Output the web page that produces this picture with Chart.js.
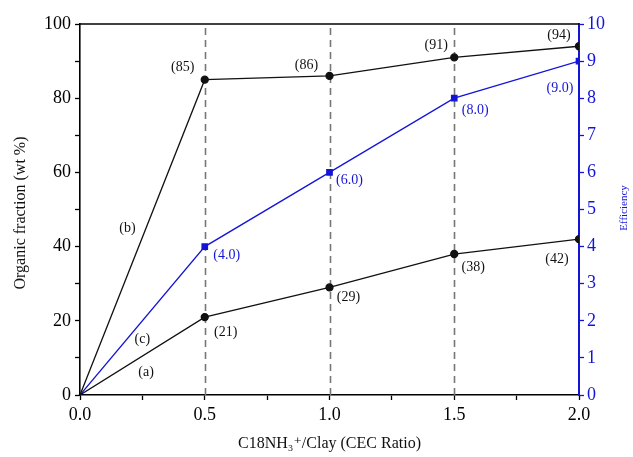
<!DOCTYPE html>
<html>
<head>
<meta charset="utf-8">
<script src="https://cdn.jsdelivr.net/npm/chart.js@4.4.1/dist/chart.umd.min.js"></script>
<style>
  html,body{margin:0;padding:0;background:#fff;}
  #wrap{width:633px;height:457px;position:relative;}
</style>
</head>
<body>
<div id="wrap"><canvas id="chart"></canvas></div>
<script>
// data
const ratios = [0, 0.5, 1.0, 1.5, 2.0];
const organicB = [0, 85, 86, 91, 94];   // (b)
const organicA = [0, 21, 29, 38, 42];   // (a)
const efficiencyC = [0, 4.0, 6.0, 8.0, 9.0]; // (c), right axis
const dashedAt = [0.5, 1.0, 1.5];
const curveNames = [
  { text: '(b)', x: 0.19, y: 45 },
  { text: '(c)', x: 0.25, y: 15 },
  { text: '(a)', x: 0.265, y: 6 }
];
const leftTitle = 'Organic fraction (wt %)';
const rightTitle = 'Efficiency';
const xTitle = 'C18NH\u2083\u207A/Clay (CEC Ratio)';

const BLUE = '#1414d8';
const SERIF = '"Liberation Serif", "DejaVu Serif", serif';

const pts = (ys)=> ratios.map((x,i)=>({ x, y: ys[i] }));

// pixel nudges for the value labels (per point)
const offB = [null, [-22,-12], [-23,-11], [-18,-12], [-20,-11]];
const offA = [null, [21,15], [19,10], [19,13], [-22,20]];
const offC = [null, [22,9], [20,8], [21,12], [-19,27]];

const extrasPlugin = {
  id: 'extras',
  beforeDatasetsDraw(chart){
    const { ctx, chartArea, scales } = chart;
    const x = scales.x;
    ctx.save();
    // dashed verticals
    ctx.strokeStyle = '#777';
    ctx.lineWidth = 1.6;
    ctx.setLineDash([7,5]);
    dashedAt.forEach(v=>{
      const px = Math.round(x.getPixelForValue(v)) + 0.5;
      ctx.beginPath();
      ctx.moveTo(px, chartArea.bottom);
      ctx.lineTo(px, chartArea.top);
      ctx.stroke();
    });
    ctx.setLineDash([]);
    // top frame line
    ctx.strokeStyle = '#000';
    ctx.lineWidth = 1.5;
    ctx.beginPath();
    ctx.moveTo(chartArea.left, chartArea.top);
    ctx.lineTo(chartArea.right, chartArea.top);
    ctx.stroke();
    ctx.restore();
  },
  afterDatasetsDraw(chart){
    const { ctx, scales } = chart;
    const x = scales.x, y = scales.y, y2 = scales.y2;
    ctx.save();
    ctx.font = '14px ' + SERIF;
    ctx.textAlign = 'center';
    ctx.textBaseline = 'middle';
    const put = (vals, scale, offs, color, fmt)=>{
      ctx.fillStyle = color;
      vals.forEach((v,i)=>{
        if(!offs[i]) return;
        const px = x.getPixelForValue(ratios[i]) + offs[i][0];
        const py = scale.getPixelForValue(v) + offs[i][1];
        ctx.fillText('(' + fmt(v) + ')', px, py);
      });
    };
    put(organicB, y, offB, '#111', v=>String(v));
    put(organicA, y, offA, '#111', v=>String(v));
    put(efficiencyC, y2, offC, BLUE, v=>v.toFixed(1));
    ctx.fillStyle = '#111';
    curveNames.forEach(c=>{
      ctx.fillText(c.text, x.getPixelForValue(c.x), y.getPixelForValue(c.y));
    });

    // vertical axis titles, both reading bottom-to-top
    const vText = (t, cx, cy, color, size)=>{
      ctx.save();
      ctx.font = size + 'px ' + SERIF;
      ctx.translate(cx, cy);
      ctx.rotate(-Math.PI/2);
      ctx.fillStyle = color;
      ctx.fillText(t, 0, 0);
      ctx.restore();
    };
    vText(leftTitle, 21, 213, '#111', 16);
    vText(rightTitle, 624, 208, BLUE, 11);
    ctx.restore();
  }
};

const tickFont = { family: SERIF, size: 18 };
const titleFont = { family: SERIF, size: 16 };

new Chart(document.getElementById('chart'), {
  type: 'line',
  data: {
    datasets: [
      {
        label: '(b)', data: pts(organicB), yAxisID: 'y',
        borderColor: '#111', backgroundColor: '#111', borderWidth: 1.3,
        pointRadius: [0,3.5,3.5,3.5,3.5], pointStyle: 'circle', tension: 0
      },
      {
        label: '(a)', data: pts(organicA), yAxisID: 'y',
        borderColor: '#111', backgroundColor: '#111', borderWidth: 1.3,
        pointRadius: [0,3.5,3.5,3.5,3.5], pointStyle: 'circle', tension: 0
      },
      {
        label: '(c)', data: pts(efficiencyC), yAxisID: 'y2',
        borderColor: BLUE, backgroundColor: BLUE, borderWidth: 1.3,
        pointRadius: [2,3.8,3.8,3.8,3.8], pointStyle: 'rect', tension: 0
      }
    ]
  },
  options: {
    responsive: true,
    maintainAspectRatio: false,
    animation: false,
    layout: { padding: { top: 24, left: 0, right: 0, bottom: 0 } },
    plugins: { legend: { display: false }, tooltip: { enabled: false } },
    scales: {
      x: {
        type: 'linear', min: 0, max: 2,
        ticks: {
          stepSize: 0.25, color: '#000', font: tickFont, padding: 4, maxRotation: 0,
          callback: v => (Math.abs(v*2 - Math.round(v*2)) < 1e-6) ? v.toFixed(1) : ''
        },
        grid: { drawOnChartArea: false, tickLength: 5, tickColor: '#000', tickWidth: 1.3 },
        border: { color: '#000', width: 1.6 },
        title: { display: true, text: xTitle, color: '#111', font: titleFont, padding: { top: 14 } },
        afterFit: s => { s.height = 62; }
      },
      y: {
        position: 'left', min: 0, max: 100,
        ticks: {
          stepSize: 10, color: '#000', font: tickFont, padding: 4,
          callback: v => (v % 20 === 0) ? v : ''
        },
        grid: { drawOnChartArea: false, tickLength: 5, tickColor: '#000', tickWidth: 1.3 },
        border: { color: '#000', width: 1.6 },
        afterFit: s => { s.width = 80; }
      },
      y2: {
        position: 'right', min: 0, max: 10,
        ticks: {
          stepSize: 0.5, color: BLUE, font: tickFont, padding: 3,
          callback: v => Number.isInteger(v) ? v : ''
        },
        grid: { drawOnChartArea: false, tickLength: 5, tickColor: BLUE, tickWidth: 1.3 },
        border: { color: BLUE, width: 2 },
        afterFit: s => { s.width = 54; }
      }
    }
  },
  plugins: [extrasPlugin]
});
</script>
</body>
</html>
